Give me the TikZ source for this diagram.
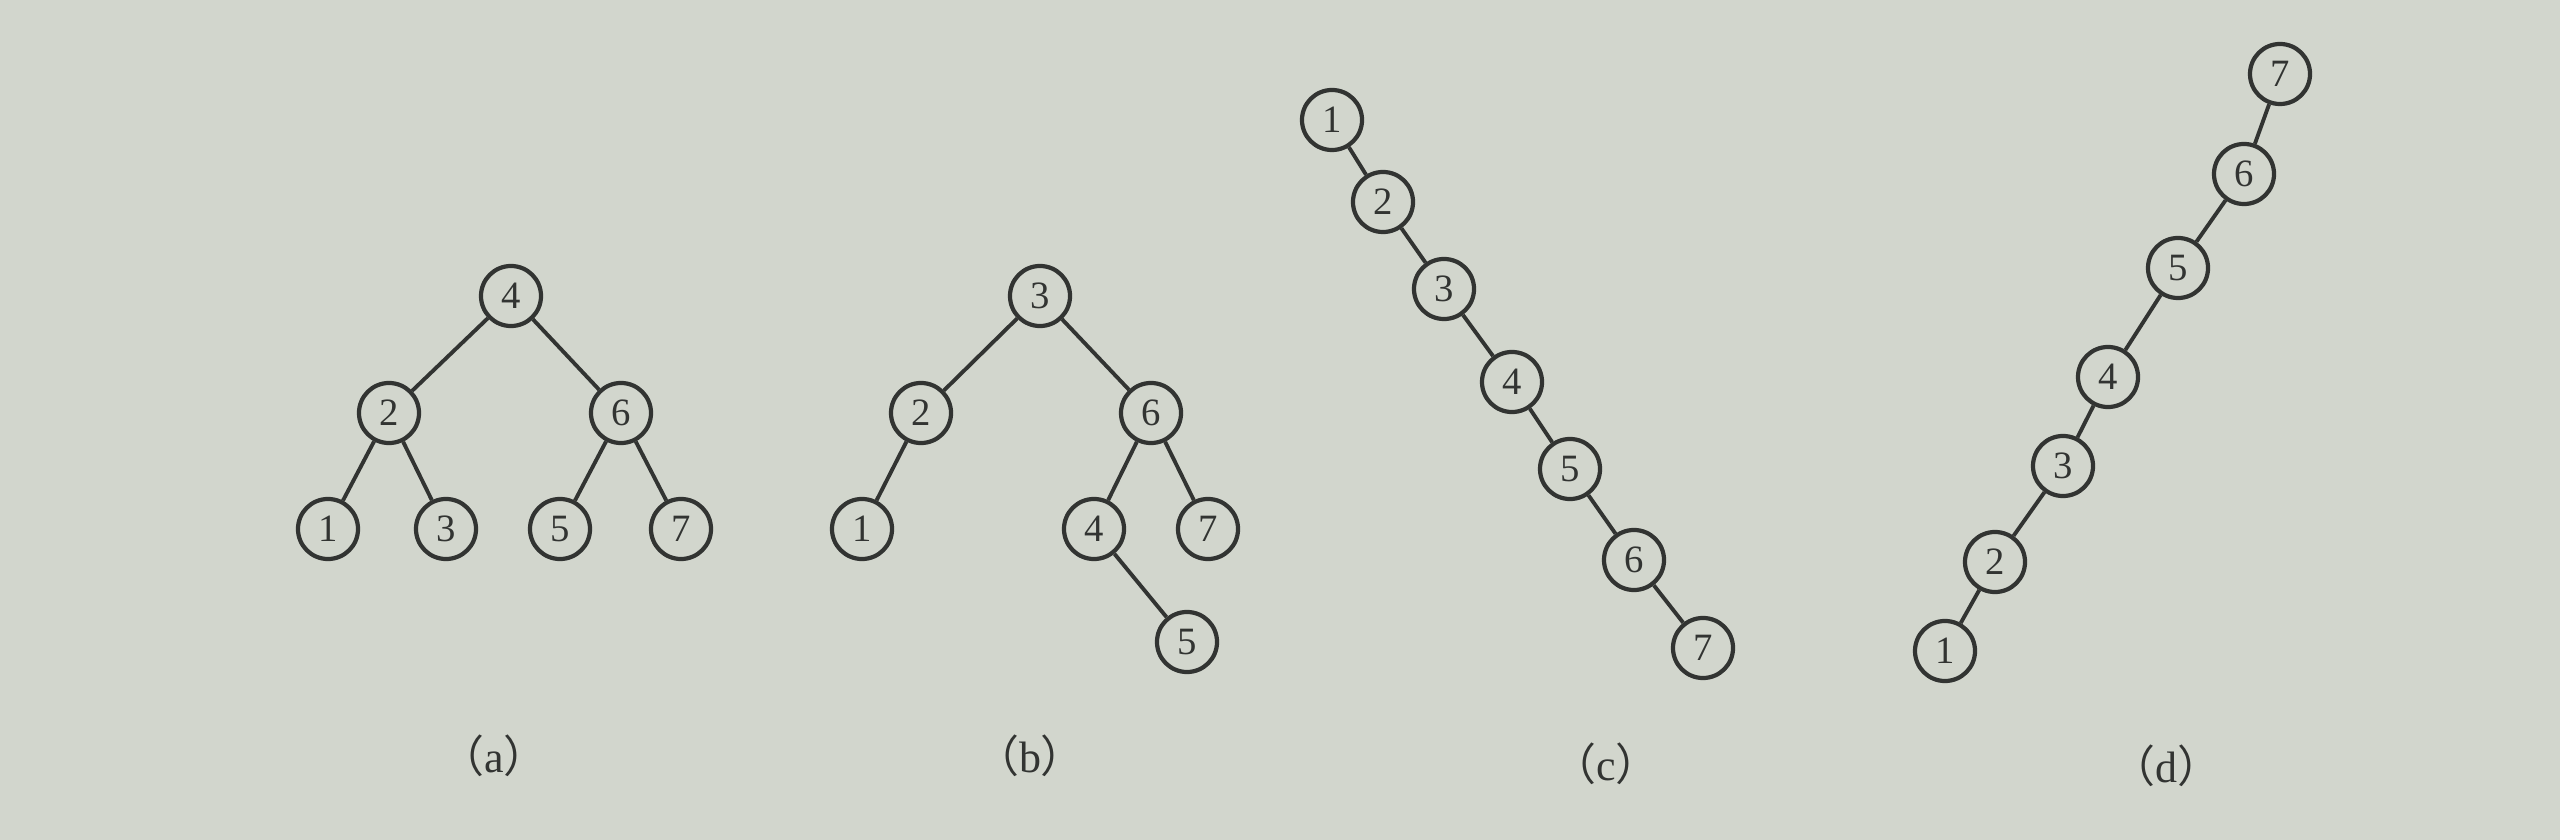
\documentclass[tikz,border=0pt]{standalone}
\usepackage{fontspec}
\setmainfont{Liberation Serif}
\newfontfamily\cjk{Noto Sans CJK SC}
\definecolor{paper}{RGB}{210,214,205}
\definecolor{ink}{RGB}{50,52,50}
\begin{document}
\begin{tikzpicture}[
        x=0.01cm, y=-0.01cm,
        cell/.style={circle, draw=ink, line width=1.2pt, minimum size=0.6cm, inner sep=0pt,
                     text=ink, font=\fontsize{11}{13}\selectfont}, % Стиль узлов
        edge/.style={draw=ink, line width=1.1pt},
        caption/.style={text=ink, font=\fontsize{12.5}{14}\selectfont},
    ]

    \fill[paper] (0,0) rectangle (2560,840);
    \useasboundingbox (0,0) rectangle (2560,840);

    % (a)
    \node[cell] (a4) at (511,296) {4};
    \node[cell] (a2) at (389,413) {2};
    \node[cell] (a6) at (621,413) {6};
    \node[cell] (a1) at (328,529) {1};
    \node[cell] (a3) at (446,529) {3};
    \node[cell] (a5) at (560,529) {5};
    \node[cell] (a7) at (681,529) {7};
    \draw[edge] (a4) -- (a2) (a4) -- (a6) (a2) -- (a1) (a2) -- (a3) (a6) -- (a5) (a6) -- (a7);
    \node[caption] (capa) at (494,756) {{\cjk （}a{\cjk ）}};

    % (b)
    \node[cell] (b3) at (1040,296) {3};
    \node[cell] (b2) at (921,413) {2};
    \node[cell] (b6) at (1151,413) {6};
    \node[cell] (b1) at (862,529) {1};
    \node[cell] (b4) at (1094,529) {4};
    \node[cell] (b7) at (1208,529) {7};
    \node[cell] (b5) at (1187,642) {5};
    \draw[edge] (b3) -- (b2) (b3) -- (b6) (b2) -- (b1) (b6) -- (b4) (b6) -- (b7) (b4) -- (b5);
    \node[caption] (capb) at (1030,756) {{\cjk （}b{\cjk ）}};

    % (c)
    \node[cell] (c1) at (1332,120) {1};
    \node[cell] (c2) at (1383,202) {2};
    \node[cell] (c3) at (1444,289) {3};
    \node[cell] (c4) at (1512,382) {4};
    \node[cell] (c5) at (1570,469) {5};
    \node[cell] (c6) at (1634,560) {6};
    \node[cell] (c7) at (1703,648) {7};
    \foreach \i/\j in {1/2,2/3,3/4,4/5,5/6,6/7}
        \draw[edge] (c\i) -- (c\j);
    \node[caption] (capc) at (1606,764) {{\cjk （}c{\cjk ）}};

    % (d)
    \node[cell] (d7) at (2280,74) {7};
    \node[cell] (d6) at (2244,174) {6};
    \node[cell] (d5) at (2178,268) {5};
    \node[cell] (d4) at (2108,377) {4};
    \node[cell] (d3) at (2063,466) {3};
    \node[cell] (d2) at (1995,562) {2};
    \node[cell] (d1) at (1945,651) {1};
    \foreach \i/\j in {7/6,6/5,5/4,4/3,3/2,2/1}
        \draw[edge] (d\i) -- (d\j);
    \node[caption] (capd) at (2166,766) {{\cjk （}d{\cjk ）}};

\end{tikzpicture}
\end{document}
